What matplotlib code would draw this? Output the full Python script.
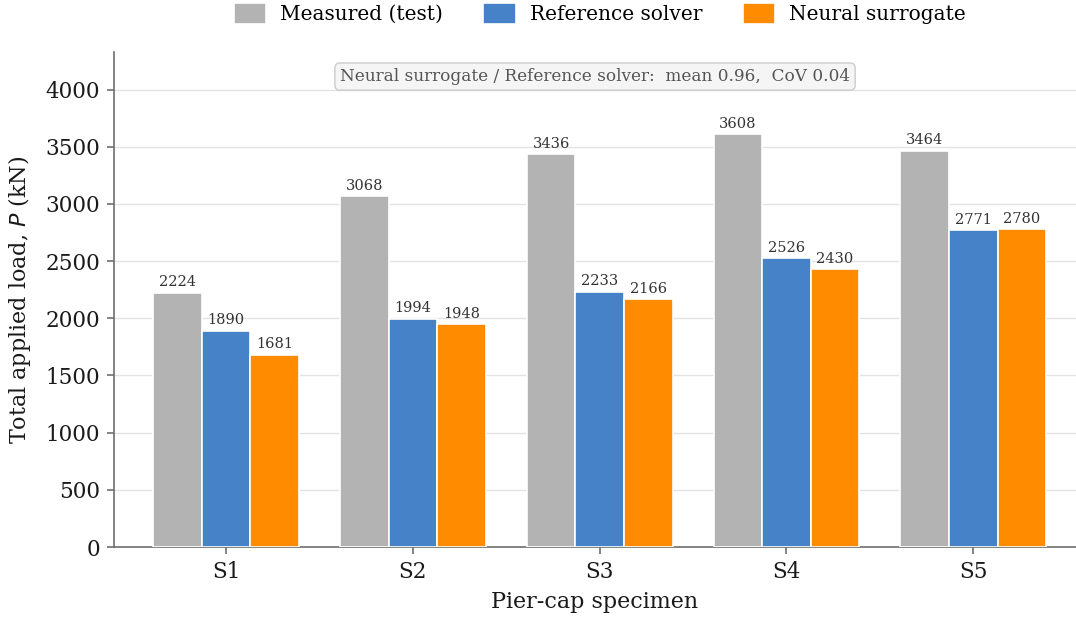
import matplotlib
matplotlib.use("Agg")
import matplotlib.pyplot as plt
import numpy as np

specimens = ["S1", "S2", "S3", "S4", "S5"]
measured = [2224, 3068, 3436, 3608, 3464]
reference = [1890, 1994, 2233, 2526, 2771]
surrogate = [1681, 1948, 2166, 2430, 2780]
series_names = ["Measured (test)", "Reference solver", "Neural surrogate"]
colors = ["#b3b3b3", "#4682c8", "#ff8c00"]
ratio_text = "Neural surrogate / Reference solver:  mean 0.96,  CoV 0.04"

plt.rcParams["font.family"] = "DejaVu Serif"

fig = plt.figure(figsize=(10.76, 6.19), dpi=100)
ax = fig.add_axes([0.106, 0.1163, 0.894, 0.8])

x = np.arange(len(specimens))
width = 0.26
all_series = [measured, reference, surrogate]
for i, (vals, name, c) in enumerate(zip(all_series, series_names, colors)):
    pos = x + (i - 1) * width
    bars = ax.bar(pos, vals, width, color=c, edgecolor="white", linewidth=1.2,
                  label=name, zorder=3)
    for b, v in zip(bars, vals):
        ax.annotate(f"{v}", (b.get_x() + b.get_width() / 2, v),
                    xytext=(0, 2.5), textcoords="offset points",
                    ha="center", va="bottom", fontsize=10.5, color="#333333")

ax.set_xlim(-0.6, 4.55)
ax.set_ylim(0, max(measured) * 1.2)
ax.set_yticks(np.arange(0, 4001, 500))
ax.set_xticks(x)
ax.set_xticklabels(specimens)
ax.tick_params(axis="both", labelsize=15.5, colors="#6e6e6e", labelcolor="#1a1a1a",
               length=5, width=1.2, pad=5)
ax.yaxis.grid(True, color="#e3e3e3", linewidth=1.0, zorder=0)
ax.set_axisbelow(True)
for s in ["top", "right"]:
    ax.spines[s].set_visible(False)
for s in ["left", "bottom"]:
    ax.spines[s].set_color("#6e6e6e")
    ax.spines[s].set_linewidth(1.2)

ax.set_xlabel("Pier-cap specimen", fontsize=16, labelpad=6, color="#1a1a1a")
ax.set_ylabel("Total applied load, $P$ (kN)", fontsize=16, labelpad=9, color="#1a1a1a")

ax.text(0.5, 0.95, ratio_text, transform=ax.transAxes, ha="center", va="center",
        fontsize=12.2, color="#555555",
        bbox=dict(boxstyle="round,pad=0.3", facecolor="#f5f5f5",
                  edgecolor="#cccccc", linewidth=1.0))

ax.legend(loc="upper center", bbox_to_anchor=(0.505, 1.135), ncol=3,
          frameon=False, fontsize=14.5, handlelength=1.6, handleheight=1.2,
          handletextpad=0.7, columnspacing=2.0)

fig.savefig("out.png", dpi=100)
